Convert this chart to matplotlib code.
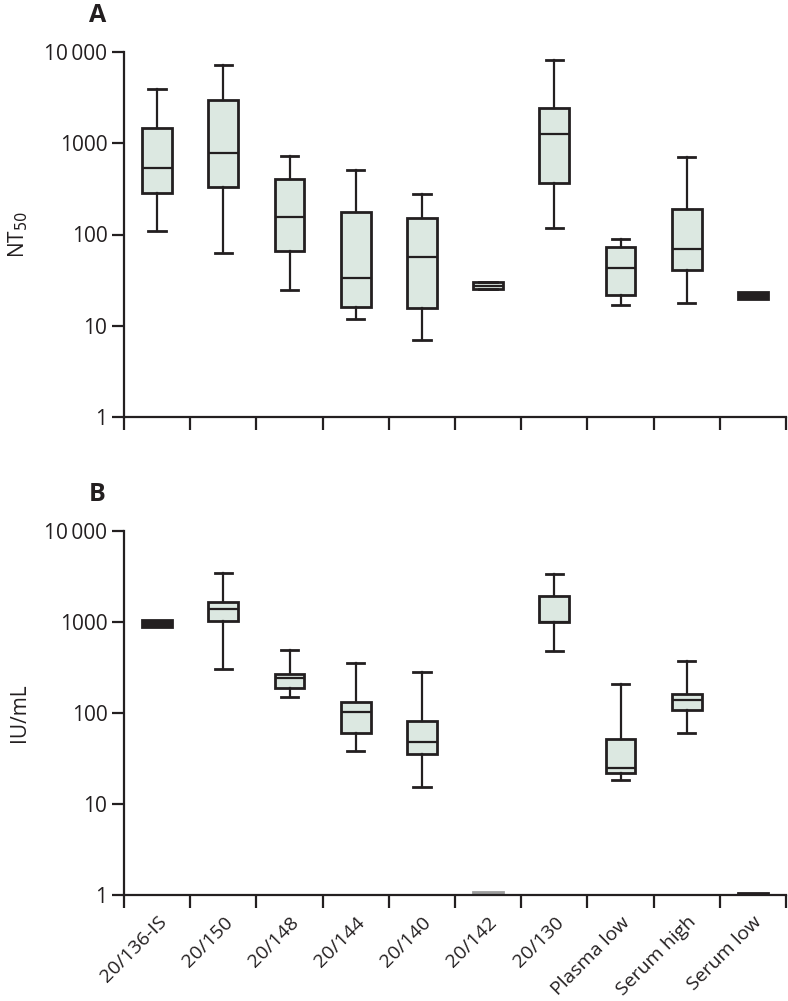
import matplotlib
matplotlib.use("Agg")
import matplotlib.pyplot as plt
from matplotlib.ticker import FixedLocator, NullLocator
from matplotlib.transforms import ScaledTranslation

plt.rcParams['font.family'] = ['Open Sans', 'DejaVu Sans']

categories = ["20/136-IS", "20/150", "20/148", "20/144", "20/140", "20/142",
              "20/130", "Plasma low", "Serum high", "Serum low"]

# Panel A: NT50
a_low = [108, 62, 24.7, 11.8, 6.9, 25.5, 117, 16.7, 17.6, 19.6]
a_q1 = [283, 334, 66, 15.9, 15.8, 25.5, 370, 21.9, 40.8, 19.6]
a_med = [531, 776, 157, 33.6, 56, 27.5, 1262, 42.6, 70, 21.5]
a_q3 = [1459, 2979, 403, 178, 150, 29.9, 2415, 72.4, 189, 23.4]
a_high = [3935, 7210, 725, 509, 276, 29.9, 8170, 89.3, 713, 23.4]

# Panel B: IU/mL
b_low = [875, 305, 151, 38.2, 15.5, 1.0, 484, 18.4, 60.8, 1.0]
b_q1 = [875, 1026, 190, 59.8, 35.2, 1.0, 993, 21.7, 107, 1.0]
b_med = [960, 1378, 241, 103, 48, 1.03, 993, 24.7, 138, 1.02]
b_q3 = [1052, 1671, 270, 131, 82.4, 1.07, 1945, 51.4, 160, 1.04]
b_high = [1052, 3454, 492, 352, 280, 1.07, 3345, 208, 370, 1.04]

yticks = [1, 10, 100, 1000, 10000]
yticklabels = ["1", "10", "100", "1000", "10\u2009000"]

EDGE = "#231f20"
FILL = "#dce8e1"
W = 788 / 100
H = 1001 / 100
fig = plt.figure(figsize=(W, H), dpi=100)


def panel(rect, lo, q1, med, q3, hi, ylabel, letter, show_labels, special):
    ax = fig.add_axes(rect)
    stats = []
    for i in range(len(categories)):
        stats.append(dict(whislo=lo[i], q1=q1[i], med=med[i], q3=q3[i],
                          whishi=hi[i], label=categories[i]))
    pos = list(range(1, len(categories) + 1))
    bp = ax.bxp(stats, positions=pos, widths=0.45, patch_artist=True,
                showfliers=False, capwidths=0.26,
                boxprops=dict(facecolor=FILL, edgecolor=EDGE, linewidth=2.0),
                medianprops=dict(color=EDGE, linewidth=1.6),
                whiskerprops=dict(color=EDGE, linewidth=1.6),
                capprops=dict(color=EDGE, linewidth=2.0))
    for idx, col in special.items():
        bp['boxes'][idx].set_facecolor(col)
        bp['boxes'][idx].set_edgecolor(col)
        bp['medians'][idx].set_color(col)
        for k in (2 * idx, 2 * idx + 1):
            bp['whiskers'][k].set_visible(False)
            bp['caps'][k].set_visible(False)
    ax.set_yscale('log')
    ax.set_ylim(1, 10000)
    ax.set_xlim(0.5, len(categories) + 0.5)
    ax.yaxis.set_major_locator(FixedLocator(yticks))
    ax.set_yticklabels(yticklabels)
    ax.yaxis.set_minor_locator(NullLocator())
    ax.set_xticks(pos)
    if show_labels:
        ax.set_xticklabels(categories, rotation=45, ha='right',
                           rotation_mode='anchor', fontsize=14, color=EDGE)
        off = ScaledTranslation(12 / 100, 0, fig.dpi_scale_trans)
        for lab in ax.get_xticklabels():
            lab.set_transform(lab.get_transform() + off)
    else:
        ax.set_xticklabels([])
    ax.set_xticks([p - 0.5 for p in pos] + [len(categories) + 0.5], minor=True)
    ax.tick_params(axis='x', which='major', length=0, pad=13)
    ax.tick_params(axis='x', which='minor', length=9, width=1.6, color=EDGE)
    ax.tick_params(axis='y', which='major', length=9, width=1.6, color=EDGE,
                   labelsize=15, labelcolor=EDGE, pad=3)
    for s in ('top', 'right'):
        ax.spines[s].set_visible(False)
    for s in ('left', 'bottom'):
        ax.spines[s].set_linewidth(1.6)
        ax.spines[s].set_color(EDGE)
    ax.set_ylabel(ylabel, fontsize=15, color=EDGE, labelpad=10)
    ax.text(-0.04, 1.1, letter, transform=ax.transAxes, fontsize=18,
            fontweight='bold', color=EDGE, ha='center', va='center')
    return ax


axA = panel([124 / 788, 1 - 417 / 1001, 662 / 788, 365 / 1001],
            a_low, a_q1, a_med, a_q3, a_high, "NT$_{50}$", "A", False, {9: EDGE})
axB = panel([124 / 788, 1 - 895 / 1001, 662 / 788, 364 / 1001],
            b_low, b_q1, b_med, b_q3, b_high, "IU/mL", "B", True,
            {0: EDGE, 5: "#9d9d9d", 9: EDGE})

fig.savefig("out.png", dpi=100)
